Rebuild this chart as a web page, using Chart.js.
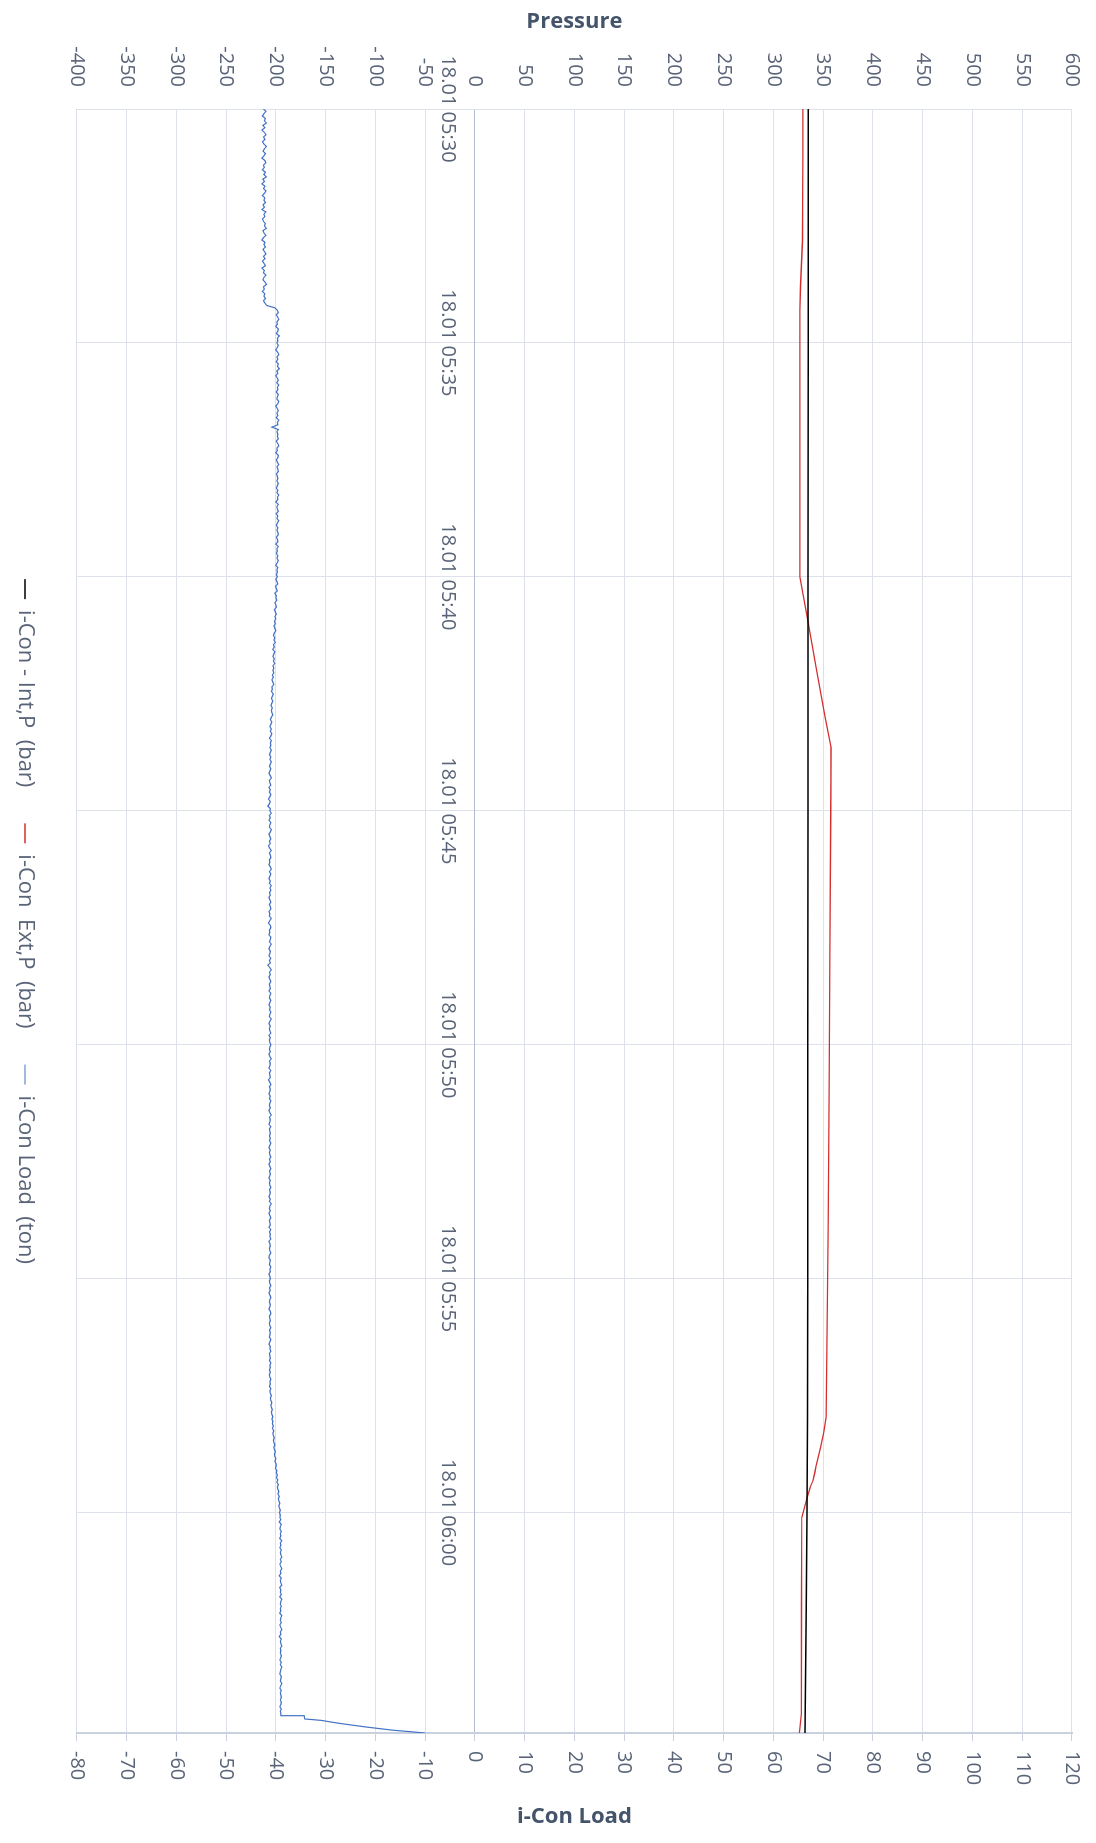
<!DOCTYPE html>
<html>
<head>
<meta charset="utf-8">
<script src="https://cdn.jsdelivr.net/npm/chart.js@4"></script>
<style>
  html, body { margin: 0; padding: 0; background: #ffffff; overflow: hidden; }
  #wrap { position: absolute; left: 0; top: 0; width: 1843px; height: 1096px;
          transform-origin: 0 0; transform: translate(1096px, 0) rotate(90deg); }
  canvas { display: block; }
</style>
</head>
<body>
<div id="wrap"><canvas id="c" width="1843" height="1096"></canvas></div>
<script>
// ---- data (minutes after 18.01 05:30) ----
const timeLabels = ['18.01 05:30', '18.01 05:35', '18.01 05:40', '18.01 05:45', '18.01 05:50', '18.01 05:55', '18.01 06:00'];
const timeEnd = 34.71;

const seriesNames = ['i-Con - Int,P  (bar)', 'i-Con  Ext,P  (bar)', 'i-Con Load  (ton)'];
const pressureTitle = 'Pressure';
const loadTitle = 'i-Con Load';

// i-Con - Int,P (bar)
const intTimes  = [0, 5, 10, 15, 20, 25, 28, 30, 32, 34.71];
const intValues = [335.0, 334.9, 334.8, 334.7, 334.6, 334.5, 334.3, 333.6, 333.0, 331.8];

// i-Con Ext,P (bar)
const extTimes  = [0, 1, 2, 2.8, 3.3, 3.8, 4.3, 6, 8, 10, 11, 12, 13, 13.65, 15, 18, 21, 24, 27, 27.96, 28.3, 28.6, 29.0, 29.15, 29.3, 29.45, 29.7, 30.1, 32, 34.3, 34.71];
const extValues = [329.5, 329.5, 329.4, 329.2, 328.2, 327.2, 326.6, 326.5, 326.5, 326.6, 335, 343.5, 352, 358, 357.6, 356.8, 355.9, 355, 353.5, 353, 350.5, 347.5, 343, 341.5, 340, 337, 333.5, 328.5, 328.2, 328, 326];

// i-Con Load (ton), one reading every 0.05 min (3 s) from 05:30
const loadStep = 0.05;
const loadValues = [
  -42.5, -42.0, -42.4, -42.7, -42.1, -42.3, -41.9, -42.6, -42.2, -42.8, -42.3, -42.0, -42.5, -42.2, -42.7, -42.4, -41.9, -42.3, -42.6, -42.1,
  -42.4, -42.8, -42.2, -42.0, -42.5, -42.3, -42.7, -42.1, -42.4, -41.9, -42.6, -42.3, -42.8, -42.2, -42.5, -42.0, -42.3, -42.7, -42.2, -42.4,
  -42.1, -42.6, -42.3, -42.8, -42.0, -42.4, -42.2, -42.7, -42.5, -42.1, -42.3, -41.9, -42.6, -42.4, -42.0, -42.5, -42.8, -42.2, -42.4, -42.1,
  -42.6, -42.3, -42.0, -42.5, -42.2, -42.7, -42.4, -42.1, -42.8, -42.3, -42.5, -42.0, -42.4, -42.6, -42.2, -41.9, -42.5, -42.3, -42.7, -42.2,
  -42.4, -42.1, -42.5, -42.2, -41.8, -40.2, -39.7, -39.5, -39.9, -39.6, -39.4, -39.8, -39.7, -40.0, -39.5, -39.6, -39.9, -39.3, -39.7, -39.6,
  -39.8, -39.5, -39.7, -40.0, -39.6, -39.4, -39.8, -39.6, -39.9, -39.5, -39.7, -39.3, -39.8, -39.6, -40.0, -39.7, -39.5, -39.8, -39.4, -39.7,
  -39.6, -39.9, -39.5, -39.7, -39.8, -39.4, -39.6, -40.0, -39.7, -39.5, -39.8, -39.6, -39.9, -39.4, -39.7, -39.6, -40.8, -39.5, -39.8, -39.6,
  -39.7, -39.5, -39.9, -39.6, -39.4, -39.8, -39.7, -40.0, -39.5, -39.6, -39.9, -39.7, -39.4, -39.8, -39.6, -39.5, -39.9, -39.7, -39.6, -39.8,
  -39.5, -39.7, -39.9, -39.6, -39.8, -39.4, -39.7, -39.6, -40.0, -39.5, -39.8, -39.7, -39.5, -39.9, -39.6, -39.8, -39.4, -39.7, -39.9, -39.6,
  -39.8, -39.6, -39.5, -39.9, -39.7, -39.6, -40.0, -39.5, -39.8, -39.7, -39.9, -39.6, -39.8, -39.5, -39.7, -40.0, -39.6, -39.8, -39.7, -39.9,
  -39.7, -40.0, -39.8, -39.6, -40.1, -39.9, -39.7, -40.2, -39.9, -40.0, -39.8, -40.2, -40.0, -39.9, -40.3, -40.1, -39.9, -40.2, -40.0, -40.3,
  -40.1, -40.4, -40.2, -40.0, -40.3, -40.5, -40.2, -40.4, -40.1, -40.5, -40.3, -40.6, -40.2, -40.4, -40.6, -40.3, -40.5, -40.2, -40.6, -40.4,
  -40.6, -40.4, -40.7, -40.5, -40.8, -40.6, -40.4, -40.8, -40.7, -40.9, -40.5, -40.7, -40.9, -40.6, -40.8, -41.0, -40.7, -40.9, -40.8, -40.6,
  -40.9, -41.1, -40.8, -41.0, -41.2, -40.9, -41.1, -40.8, -41.0, -41.3, -40.9, -41.1, -41.0, -41.2, -40.9, -41.1, -41.3, -41.0, -41.2, -40.9,
  -41.1, -41.3, -41.0, -41.2, -41.4, -41.1, -40.9, -41.3, -41.2, -41.0, -41.4, -41.1, -41.3, -41.0, -41.2, -41.5, -41.1, -41.3, -41.6, -41.1,
  -41.2, -40.9, -41.3, -41.1, -41.4, -41.0, -41.2, -41.3, -40.9, -41.1, -41.4, -41.2, -41.0, -41.3, -41.1, -41.5, -41.2, -40.9, -41.3, -41.1,
  -41.0, -41.3, -41.2, -41.4, -41.1, -40.9, -41.3, -41.0, -41.2, -41.4, -41.1, -41.3, -40.9, -41.2, -41.0, -41.3, -41.1, -41.4, -41.2, -41.0,
  -41.3, -41.1, -41.0, -41.4, -41.2, -41.3, -40.9, -41.2, -41.5, -41.1, -41.0, -41.3, -41.2, -41.4, -41.0, -41.1, -41.3, -40.9, -41.2, -41.4,
  -41.1, -41.2, -41.4, -41.0, -41.3, -41.1, -41.6, -41.2, -40.9, -41.3, -41.1, -41.4, -41.2, -41.0, -41.3, -41.2, -41.1, -41.4, -41.0, -41.2,
  -41.3, -41.0, -41.2, -41.4, -41.1, -41.3, -41.0, -41.2, -41.3, -40.9, -41.2, -41.4, -41.1, -41.3, -41.2, -41.0, -41.4, -41.1, -41.3, -41.2,
  -41.0, -41.2, -41.3, -41.1, -41.4, -41.2, -40.9, -41.3, -41.1, -41.2, -41.4, -41.0, -41.3, -41.2, -41.1, -41.5, -41.2, -41.0, -41.3, -41.1,
  -41.2, -41.4, -41.1, -41.3, -41.0, -41.2, -41.3, -41.1, -41.4, -41.2, -40.9, -41.3, -41.1, -41.2, -41.4, -41.0, -41.3, -41.2, -41.1, -41.3,
  -41.1, -41.3, -41.0, -41.2, -41.4, -41.1, -41.3, -41.2, -41.0, -41.3, -41.1, -41.4, -41.2, -41.0, -41.3, -41.1, -41.2, -41.4, -41.1, -41.3,
  -41.2, -41.0, -41.3, -41.1, -41.2, -41.4, -41.1, -41.3, -40.9, -41.2, -41.3, -41.1, -41.4, -41.2, -41.0, -41.3, -41.2, -41.1, -41.4, -41.0,
  -41.3, -41.1, -41.2, -41.0, -41.4, -41.2, -41.1, -41.3, -41.2, -41.0, -41.3, -41.4, -41.1, -41.2, -41.3, -41.0, -41.2, -41.1, -41.4, -41.2,
  -41.1, -41.3, -41.2, -41.0, -41.3, -41.1, -41.4, -41.2, -41.0, -41.2, -41.3, -41.1, -41.2, -41.4, -41.1, -41.0, -41.3, -41.2, -41.1, -41.3,
  -41.2, -41.0, -41.3, -41.1, -41.2, -41.3, -41.0, -41.2, -41.4, -41.1, -41.2, -41.0, -41.3, -41.2, -41.1, -41.3, -41.0, -41.2, -41.1, -41.3,
  -41.1, -41.3, -41.2, -41.0, -41.2, -41.1, -41.3, -41.0, -41.2, -41.1, -40.9, -41.1, -41.0, -40.8, -41.0, -40.9, -40.7, -40.9, -40.8, -40.6,
  -40.8, -40.6, -40.7, -40.5, -40.7, -40.4, -40.6, -40.5, -40.3, -40.5, -40.4, -40.2, -40.4, -40.3, -40.1, -40.3, -40.2, -40.0, -40.2, -40.0,
  -39.9, -40.1, -39.8, -39.9, -39.7, -39.9, -39.6, -39.8, -39.5, -39.7, -39.6, -39.4, -39.6, -39.3, -39.5, -39.4, -39.2, -39.4, -39.3, -39.1,
  -39.3, -39.1, -39.2, -39.0, -39.3, -38.9, -39.1, -39.2, -38.9, -39.1, -39.0, -39.2, -38.8, -39.1, -39.0, -39.2, -38.9, -39.1, -39.0, -38.8,
  -39.1, -38.9, -39.2, -39.0, -38.8, -39.1, -39.0, -39.3, -38.9, -39.1, -39.0, -38.8, -39.2, -39.0, -39.1, -38.9, -39.2, -38.8, -39.0, -39.1,
  -38.9, -39.1, -39.0, -39.2, -38.8, -39.0, -39.1, -38.9, -39.2, -39.0, -38.8, -39.1, -39.0, -39.3, -38.9, -39.1, -39.0, -38.8, -39.1, -39.0,
  -39.1, -38.9, -39.0, -39.2, -38.9, -39.1, -38.8, -39.0, -39.1, -39.2, -38.9, -39.0, -39.1, -38.8, -39.0, -39.2, -38.9, -39.1, -39.0, -38.9,
  -39.1, -38.9, -39.0, -39.2, -38.9, -39.1, -39.0
];
// final unloading ramp
const loadRampTimes  = [34.33, 34.34, 34.41, 34.44, 34.50, 34.58, 34.65, 34.71];
const loadRampValues = [-39.0, -34.3, -34.2, -30.9, -27.5, -22.0, -16.5, -10.0];

// axis ranges / ticks
const pressureMin = -400, pressureMax = 600, pressureStep = 50;
const loadMin = -80, loadMax = 120, loadStepTick = 10;
const timeStepTick = 5;

// ---- build ----
const toXY = (ts, vs) => ts.map((t, i) => ({ x: t, y: vs[i] }));
const loadData = loadValues.map((v, i) => ({ x: Math.round(i * loadStep * 1000) / 1000, y: v }))
  .concat(toXY(loadRampTimes, loadRampValues));

const FONT = '"Open Sans", "DejaVu Sans", sans-serif';
const tickColor = '#5a6478';
const titleColor = '#44546a';
const gridColor = '#dde2ea';

Chart.defaults.font.family = FONT;

const rightTitle = {
  id: 'rightTitle',
  afterDraw(chart) {
    const { ctx, chartArea } = chart;
    ctx.save();
    ctx.translate(chart.width - 26, (chartArea.top + chartArea.bottom) / 2);
    ctx.rotate(-Math.PI / 2);
    ctx.font = 'bold 22px ' + FONT;
    ctx.fillStyle = titleColor;
    ctx.textAlign = 'center';
    ctx.textBaseline = 'middle';
    ctx.fillText(loadTitle, 0, 0);
    ctx.restore();
  }
};

const noVPad = (s, w) => { s.width = w; s.paddingTop = 0; s.paddingBottom = 0; };

new Chart(document.getElementById('c'), {
  type: 'line',
  data: {
    datasets: [
      { label: seriesNames[0], data: toXY(intTimes, intValues), yAxisID: 'y',
        borderColor: '#000000', backgroundColor: '#000000', borderWidth: 1.5 },
      { label: seriesNames[1], data: toXY(extTimes, extValues), yAxisID: 'y',
        borderColor: '#d42f2f', backgroundColor: '#d42f2f', borderWidth: 1.3 },
      { label: seriesNames[2], data: loadData, yAxisID: 'y2',
        borderColor: '#4472c4', backgroundColor: '#4472c4', borderWidth: 1.2 }
    ]
  },
  options: {
    responsive: false,
    animation: false,
    devicePixelRatio: 1,
    elements: { point: { radius: 0, hoverRadius: 0 }, line: { tension: 0 } },
    layout: { padding: { left: 0, right: 0, top: 24, bottom: 4 } },
    plugins: {
      tooltip: { enabled: false },
      legend: {
        position: 'bottom',
        title: { display: true, text: '', padding: 0, font: { size: 4 } },
        labels: { boxWidth: 20, boxHeight: 0, padding: 36, color: tickColor,
                  font: { size: 22, family: FONT } }
      }
    },
    scales: {
      x: {
        type: 'linear',
        position: { y: 0 },
        min: 0, max: timeEnd,
        ticks: {
          stepSize: timeStepTick, includeBounds: false, autoSkip: false, maxRotation: 0,
          padding: 15, color: tickColor, font: { size: 20 },
          callback: (v) => timeLabels[Math.round(v / timeStepTick)] || ''
        },
        grid: { color: gridColor, drawTicks: false },
        border: { color: '#b3bccd', width: 1 }
      },
      y: {
        position: 'left',
        min: pressureMin, max: pressureMax,
        ticks: { stepSize: pressureStep, padding: 22, color: tickColor, font: { size: 20 } },
        grid: { color: gridColor, drawTicks: false },
        border: { color: gridColor },
        title: { display: true, text: pressureTitle, color: titleColor,
                 font: { size: 22, weight: 'bold' }, padding: { top: 9, bottom: 0 } },
        afterFit: (s) => noVPad(s, 109)
      },
      y2: {
        position: 'right',
        min: loadMin, max: loadMax,
        ticks: { stepSize: loadStepTick, padding: 10, color: tickColor, font: { size: 20 } },
        grid: { drawOnChartArea: false, drawTicks: true, tickLength: 8, color: '#c9d0de' },
        border: { color: '#c9d0de', width: 2 },
        afterFit: (s) => noVPad(s, 110)
      }
    }
  },
  plugins: [rightTitle]
});
</script>
</body>
</html>
